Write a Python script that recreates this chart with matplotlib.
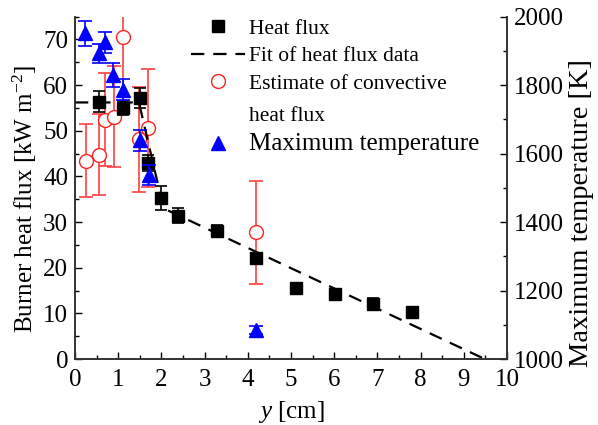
import matplotlib
matplotlib.use("Agg")
import matplotlib.pyplot as plt
import matplotlib.transforms as mtransforms
from matplotlib.ticker import MultipleLocator
from matplotlib.lines import Line2D

plt.rcParams['font.family'] = 'Liberation Serif'
plt.rcParams['mathtext.fontset'] = 'custom'
plt.rcParams['mathtext.rm'] = 'Liberation Serif'
plt.rcParams['mathtext.it'] = 'Liberation Serif:italic'

# heat flux measurements
hf_x = [0.56, 1.10, 1.50, 1.68, 2.00, 2.39, 3.28, 4.20, 5.11, 6.02, 6.91, 7.81]
hf_y = [56.4, 55.0, 57.1, 42.9, 35.3, 31.4, 28.0, 22.1, 15.5, 14.3, 12.1, 10.3]
hf_err = [2.3, 1.5, 2.2, 1.8, 2.6, 1.6, 1.3, 1.1, 1.2, 0.8, 1.3, 0.8]

# fit of heat flux
fit_x = [0.0, 1.48, 2.05, 9.49]
fit_y = [56.2, 56.2, 33.0, 0.0]

# convective estimate
cv_x = [0.25, 0.56, 0.69, 0.90, 1.10, 1.49, 1.70, 4.20]
cv_y = [43.4, 44.8, 52.4, 53.1, 70.6, 48.1, 50.6, 27.8]
cv_err = [8.0, 8.8, 10.2, 11.0, 17.0, 11.4, 13.0, 11.3]

# max temperature
tm_x = [0.23, 0.56, 0.69, 0.89, 1.10, 1.50, 1.71, 4.20]
tm_y = [1951, 1893, 1925, 1829, 1787, 1639, 1537, 1085]
tm_err = [36, 28, 30, 35, 31, 31, 29, 12]

fig = plt.figure(figsize=(5.98, 4.25), dpi=100)
ax = fig.add_axes([0.1254, 0.155, 0.7224, 0.806])
ax2 = ax.twinx()

ax.errorbar(cv_x, cv_y, yerr=cv_err, fmt='o', ms=10, mfc='white', mec='#ff2020',
            ecolor='#ff4040', elinewidth=1.2, capsize=5, capthick=1.2, zorder=2)
ax.plot(fit_x, fit_y, color='black', lw=1.6, ls=(0, (6, 4)), zorder=3)
ax.errorbar(hf_x, hf_y, yerr=hf_err, fmt='s', ms=8, color='black',
            elinewidth=1.2, capsize=4, capthick=1.2, zorder=4)

ax2.errorbar(tm_x, tm_y, yerr=tm_err, fmt='^', ms=10, color='blue',
             ecolor='blue', elinewidth=1.2, capsize=5, capthick=1.2)

ax.set_xlim(0, 10)
ax.set_ylim(0, 75)
ax2.set_ylim(1000, 2000)
ax.xaxis.set_major_locator(MultipleLocator(1))
ax.xaxis.set_minor_locator(MultipleLocator(0.5))
ax.yaxis.set_major_locator(MultipleLocator(10))
ax.yaxis.set_minor_locator(MultipleLocator(5))
ax2.yaxis.set_major_locator(MultipleLocator(200))
ax2.yaxis.set_minor_locator(MultipleLocator(100))

for a in (ax, ax2):
    a.spines['top'].set_visible(False)
    for s in a.spines.values():
        s.set_linewidth(1.2)
        s.set_color('#333333')
    a.tick_params(which='both', direction='in', labelsize=18, width=1.0, pad=5)
    a.tick_params(which='major', length=5)
    a.tick_params(which='minor', length=3)
ax.tick_params(axis='y', right=False)
ax.tick_params(axis='x', pad=7)
ax2.tick_params(axis='y', left=False)

ax.set_xlabel('$y$ [cm]', fontsize=18, labelpad=6)
ax.set_ylabel('Burner heat flux [kW m$^{-2}$]', fontsize=18, labelpad=3, y=0.467)
ax2.set_ylabel('Maximum temperature [K]', fontsize=20.5, labelpad=4, y=0.426)

handles = [
    Line2D([], [], marker='s', ms=8, color='black', ls='none'),
    Line2D([], [], color='black', lw=1.6, ls=(0, (6, 4))),
    Line2D([], [], marker='o', ms=10, mfc='white', mec='#ff2020', ls='none'),
    Line2D([], [], ls='none'),
    Line2D([], [], marker='^', ms=10, color='blue', ls='none'),
]
labels = ['Heat flux', 'Fit of heat flux data', 'Estimate of convective',
          'heat flux', 'Maximum temperature']
leg = ax.legend(handles, labels, loc='upper left', bbox_to_anchor=(0.224, 1.05),
                frameon=False, fontsize=15.5, handlelength=2.5, handletextpad=0.2,
                labelspacing=0.34)
texts = leg.get_texts()
texts[4].set_fontsize(18)

# nudge the wrapped line and the last entry down a little
down = mtransforms.ScaledTranslation(0, -0.05, fig.dpi_scale_trans)
texts[3].set_transform(texts[3].get_transform() + down)
texts[4].set_transform(texts[4].get_transform() + down)
leg.legend_handles[4].set_transform(leg.legend_handles[4].get_transform() + down)

fig.savefig('out.png', dpi=100)
